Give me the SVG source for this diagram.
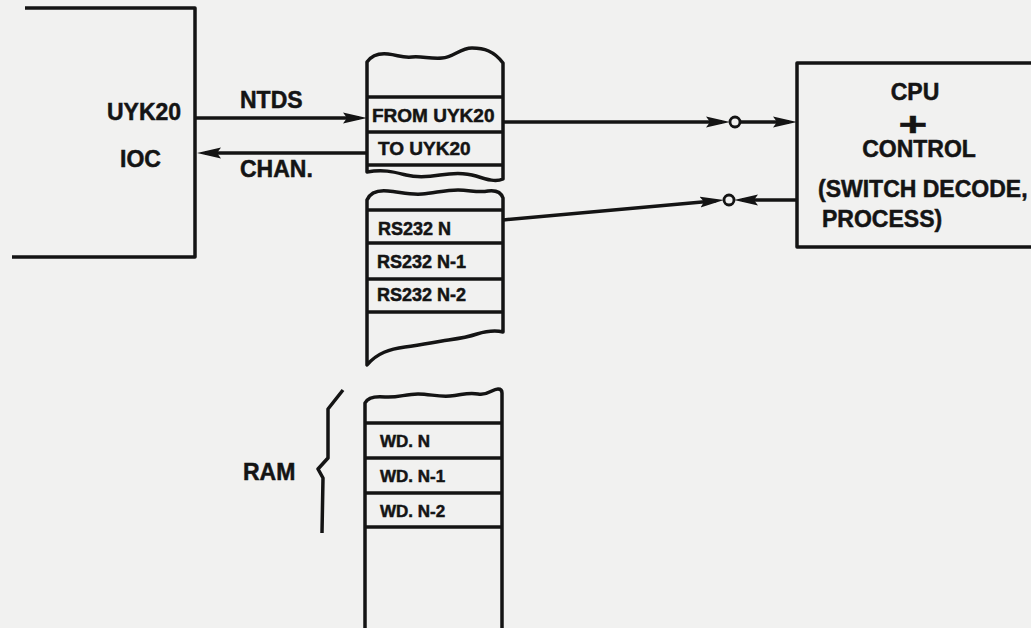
<svg xmlns="http://www.w3.org/2000/svg" width="1031" height="628" viewBox="0 0 1031 628">
<style>
.t{font-family:"Liberation Sans",Arial,Helvetica,sans-serif;font-weight:bold;fill:#141414;stroke:#141414;stroke-width:0.5}
.big{font-size:23px}
.mid{font-size:19px}
.sm{font-size:18px}
.xs{font-size:17px}
.ln{stroke:#141414;stroke-width:3.5;fill:none;stroke-linejoin:round}
.rw{stroke:#141414;stroke-width:3.5;fill:none}
.cx{stroke:#141414;stroke-width:3.5;fill:none}
.dot{stroke:#141414;stroke-width:2.8;fill:#f1f1f0}
</style>
<defs>
<marker id="ah" viewBox="0 0 24 12" refX="16" refY="6" markerWidth="24" markerHeight="12" markerUnits="userSpaceOnUse" orient="auto">
<path d="M0,0.5 L24,6 L0,11.5 L4,6 Z" fill="#141414"/>
</marker>
</defs>
<rect x="0" y="0" width="1031" height="628" fill="#f1f1f0"/>

<g id="ioc">
<path class="ln" d="M25,8 L195,8 L195,257 L12,257"/>
<text class="t big" x="107" y="120">UYK20</text>
<text class="t big" x="120" y="167">IOC</text>
</g>

<g id="mem-uyk">
<path class="ln" d="M367,62 C372,55 379,53 388,54 C398,55 402,58 412,57 C422,56 430,59 442,58 C454,57 460,48 472,48 C484,48 494,51 503,63 L503,179 C496,182 488,180 476,176 C464,172 452,173 440,175 C428,177 418,178 406,175 C394,172 384,169 367,172 Z"/>
<line class="rw" x1="367" y1="97" x2="503" y2="97"/>
<line class="rw" x1="367" y1="132" x2="503" y2="132"/>
<line class="rw" x1="367" y1="165" x2="503" y2="165"/>
<text class="t mid" x="372" y="122">FROM UYK20</text>
<text class="t mid" x="378" y="155">TO UYK20</text>
</g>

<g id="mem-rs232">
<path class="ln" d="M367,200 C370,193 378,190 388,191 C400,192 410,195 422,194 C435,193 445,190 458,190 C470,190 478,193 488,191 C496,190 501,192 503,198 L503,332 C495,330 487,331 477,334 C465,338 455,339 442,341 C430,343 420,345 405,347 C390,349 377,353 367,365 Z"/>
<line class="rw" x1="367" y1="210" x2="503" y2="210"/>
<line class="rw" x1="367" y1="243" x2="503" y2="243"/>
<line class="rw" x1="367" y1="279" x2="503" y2="279"/>
<line class="rw" x1="367" y1="312" x2="503" y2="312"/>
<text class="t sm" x="378" y="235">RS232 N</text>
<text class="t sm" x="377" y="268">RS232 N-1</text>
<text class="t sm" x="377" y="301">RS232 N-2</text>
</g>

<g id="ram">
<path class="ln" d="M365,640 L365,403 C368,397 375,396 385,397 C398,398 405,394 418,394 C430,394 438,397 450,396 C462,395 468,392 478,394 C488,396 492,389 498,389 C501,389 502,391 502,393 L502,640"/>
<line class="rw" x1="365" y1="423" x2="502" y2="423"/>
<line class="rw" x1="365" y1="458" x2="502" y2="458"/>
<line class="rw" x1="365" y1="493" x2="502" y2="493"/>
<line class="rw" x1="365" y1="527" x2="502" y2="527"/>
<text class="t xs" x="380" y="447">WD. N</text>
<text class="t xs" x="380" y="482">WD. N-1</text>
<text class="t xs" x="380" y="517">WD. N-2</text>
<path class="ln" stroke-width="3" d="M343,390 L328,409 L328,458 L318,469 L323,478 L322,533"/>
<text class="t big" x="243" y="480">RAM</text>
</g>

<g id="cpu">
<rect class="ln" x="797" y="63" width="260" height="184"/>
<text class="t big" x="915" y="100" text-anchor="middle">CPU</text>
<text class="t" font-size="34" transform="translate(913,135.5) scale(1.45,1)" text-anchor="middle">+</text>
<text class="t big" x="919" y="157" text-anchor="middle">CONTROL</text>
<text class="t big" x="818" y="197">(SWITCH DECODE,</text>
<text class="t big" x="822" y="227">PROCESS)</text>
</g>

<g id="connectors">
<text class="t big" x="240" y="108">NTDS</text>
<text class="t big" x="240" y="177">CHAN.</text>
<line class="cx" x1="195" y1="118" x2="359" y2="118" marker-end="url(#ah)"/>
<line class="cx" x1="367" y1="153" x2="205" y2="153" marker-end="url(#ah)"/>
<line class="cx" x1="503" y1="122" x2="722" y2="122" marker-end="url(#ah)"/>
<circle class="dot" cx="735" cy="122" r="5"/>
<line class="cx" x1="740" y1="122" x2="789" y2="122" marker-end="url(#ah)"/>
<line class="cx" x1="503" y1="220" x2="716" y2="200.7" marker-end="url(#ah)"/>
<circle class="dot" cx="729" cy="200" r="5"/>
<line class="cx" x1="797" y1="200" x2="742" y2="200" marker-end="url(#ah)"/>
</g>
</svg>
